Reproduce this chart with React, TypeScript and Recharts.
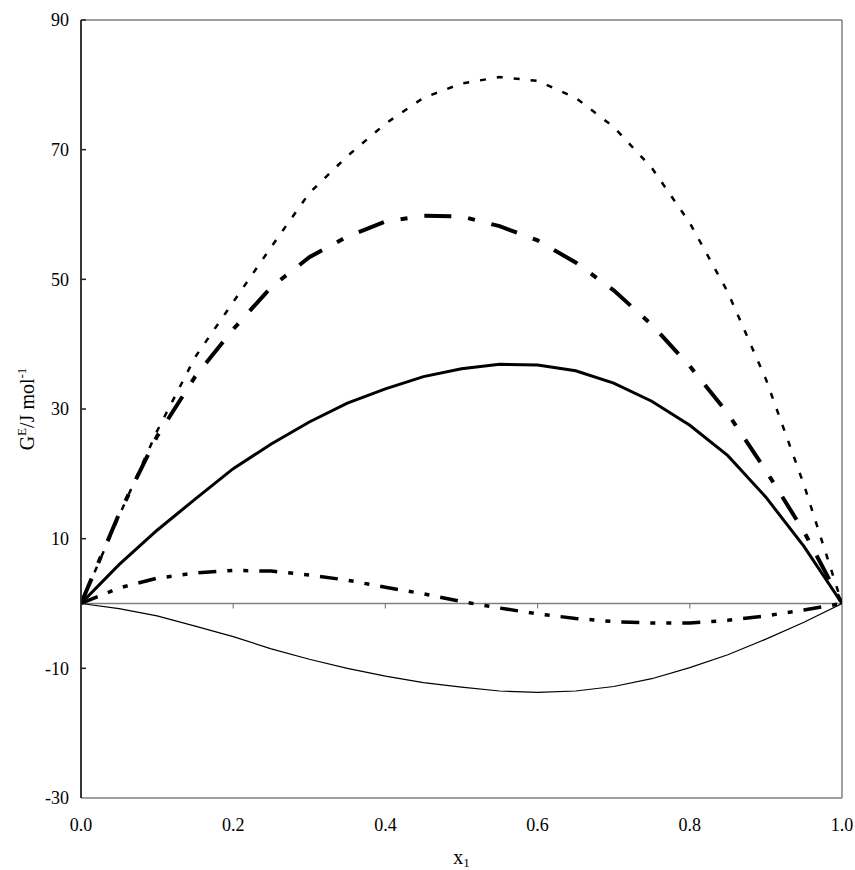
import React from 'react';
import { LineChart, Line, XAxis, YAxis, ReferenceLine, ReferenceDot, Label } from 'recharts';

const xValues = [0, 0.05, 0.1, 0.15, 0.2, 0.25, 0.3, 0.35, 0.4, 0.45, 0.5, 0.55, 0.6, 0.65, 0.7, 0.75, 0.8, 0.85, 0.9, 0.95, 1.0];

const seriesDotted = [0, 13.5, 26.6, 38.0, 46.5, 55.0, 63.3, 69.0, 74.0, 78.0, 80.2, 81.2, 80.6, 78.0, 73.5, 67.2, 58.7, 48.0, 34.6, 18.3, 0];
const seriesDashDot = [0, 13.8, 25.8, 35.0, 42.3, 48.8, 53.4, 56.6, 58.9, 59.8, 59.7, 58.2, 56.0, 52.6, 48.3, 43.0, 36.6, 29.3, 20.5, 11.1, 0];
const seriesSolid = [0, 6.0, 11.3, 16.1, 20.8, 24.6, 28.0, 30.9, 33.1, 35.0, 36.2, 36.9, 36.8, 35.9, 34.0, 31.2, 27.5, 22.8, 16.4, 8.8, 0];
const seriesSmall = [0, 2.4, 3.9, 4.7, 5.1, 5.0, 4.4, 3.6, 2.5, 1.5, 0.3, -0.7, -1.6, -2.3, -2.8, -3.0, -3.0, -2.6, -1.9, -1.0, 0];
const seriesThin = [0, -0.8, -1.9, -3.5, -5.1, -7.0, -8.6, -10.0, -11.2, -12.2, -12.9, -13.5, -13.7, -13.5, -12.8, -11.6, -9.9, -7.9, -5.5, -2.9, 0];

const xTicks = [0, 0.2, 0.4, 0.6, 0.8, 1.0];
const yTicks = [-30, -10, 10, 30, 50, 70, 90];
const zeroLineTicks = [0.2, 0.4, 0.6, 0.8];
const yInnerTicks = [-10, 10, 30, 50, 70, 90];

const data = xValues.map((x, i) => ({
  x,
  dotted: seriesDotted[i],
  dashdot: seriesDashDot[i],
  solid: seriesSolid[i],
  small: seriesSmall[i],
  thin: seriesThin[i],
}));

const FONT = '"Liberation Serif", "Times New Roman", serif';

const DownTick = (props: any) => (
  <line x1={props.cx} y1={props.cy} x2={props.cx} y2={props.cy + 5} stroke="#808080" strokeWidth={1.2} />
);
const RightTick = (props: any) => (
  <line x1={props.cx} y1={props.cy} x2={props.cx + 5} y2={props.cy} stroke="#222" strokeWidth={1.5} />
);

const YTitle = (props: any) => {
  const vb = props.viewBox || {};
  const cy = vb.y + vb.height / 2;
  const x = 34;
  return (
    <text x={x} y={cy} transform={`rotate(-90, ${x}, ${cy})`} textAnchor="middle" fontFamily={FONT} fontSize={20} fill="#000">
      <tspan>G</tspan>
      <tspan fontSize={13} dy={-8}>E</tspan>
      <tspan dy={8}>/J mol</tspan>
      <tspan fontSize={13} dy={-8}>-1</tspan>
    </text>
  );
};

const XTitle = (props: any) => {
  const vb = props.viewBox || {};
  const cx = vb.x + vb.width / 2;
  return (
    <text x={cx} y={864} textAnchor="middle" fontFamily={FONT} fontSize={20} fill="#000">
      <tspan>x</tspan>
      <tspan fontSize={13} dy={3}>1</tspan>
    </text>
  );
};

export default function App() {
  return (
    <div style={{ position: 'fixed', left: 0, top: 0, width: 855, height: 870, overflow: 'hidden', background: '#fff' }}>
      <LineChart width={855} height={870} data={data} margin={{ top: 20, right: 13, bottom: 0, left: 0 }}>
        <XAxis
          type="number"
          dataKey="x"
          domain={[0, 1]}
          ticks={xTicks}
          tickFormatter={(v: number) => v.toFixed(1)}
          height={72}
          tickSize={0}
          tickMargin={20}
          tickLine={false}
          axisLine={{ stroke: '#808080', strokeWidth: 1.5 }}
          tick={{ fontSize: 18, fontFamily: FONT, fill: '#000' }}
          allowDataOverflow
        >
          <Label content={<XTitle />} />
        </XAxis>
        <YAxis
          type="number"
          domain={[-30, 90]}
          ticks={yTicks}
          width={81}
          tickSize={0}
          tickMargin={12}
          tickLine={false}
          axisLine={{ stroke: '#222', strokeWidth: 1.8 }}
          tick={{ fontSize: 18, fontFamily: FONT, fill: '#000' }}
          allowDataOverflow
        >
          <Label content={<YTitle />} />
        </YAxis>
        <ReferenceLine y={90} stroke="#808080" strokeWidth={1.5} />
        <ReferenceLine x={1} stroke="#808080" strokeWidth={1.5} />
        <ReferenceLine y={0} stroke="#808080" strokeWidth={1.5} />
        {zeroLineTicks.map((t) => (
          <ReferenceDot key={'zt' + t} x={t} y={0} r={0} shape={<DownTick />} ifOverflow="visible" />
        ))}
        {yInnerTicks.map((t) => (
          <ReferenceDot key={'yt' + t} x={0} y={t} r={0} shape={<RightTick />} ifOverflow="visible" />
        ))}
        <Line type="linear" dataKey="thin" stroke="#000" strokeWidth={1.2} dot={false} activeDot={false} isAnimationActive={false} />
        <Line type="linear" dataKey="small" stroke="#000" strokeWidth={3.5} strokeDasharray="18 11 5 11 5 11" dot={false} activeDot={false} isAnimationActive={false} />
        <Line type="linear" dataKey="solid" stroke="#000" strokeWidth={3} dot={false} activeDot={false} isAnimationActive={false} />
        <Line type="linear" dataKey="dashdot" stroke="#000" strokeWidth={4} strokeDasharray="27 17 7 17" dot={false} activeDot={false} isAnimationActive={false} />
        <Line type="linear" dataKey="dotted" stroke="#000" strokeWidth={2.5} strokeDasharray="6 11" dot={false} activeDot={false} isAnimationActive={false} />
      </LineChart>
    </div>
  );
}
